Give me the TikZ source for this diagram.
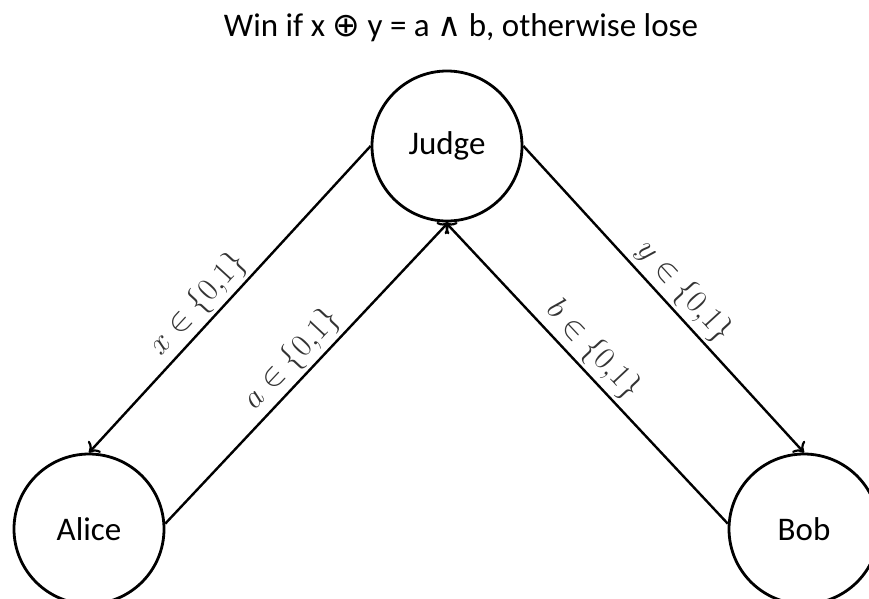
\RequirePackage{fix-cm}
\documentclass[tikz,border=0pt]{standalone}
\usepackage{fontspec}
\setmainfont{Carlito}
\newfontfamily\symfont{DejaVu Sans}
\usetikzlibrary{arrows.meta}
\tikzset{
  player/.style={circle, draw, line width=2.8pt, minimum size=150pt, inner sep=0pt, font=\fontsize{33}{38}\selectfont},
  msg/.style={line width=2.4pt, -{To[length=9pt,width=17pt,line width=2.2pt]}},
  lbl/.style={sloped, above, inner sep=3pt, font=\fontsize{32}{38}\selectfont, text=black!80}
}
\begin{document}
\begin{tikzpicture}[x=1pt,y=-1pt]
  \useasboundingbox (0,0) rectangle (869,598);
  \node[font=\fontsize{33}{38}\selectfont] (title) at (461,28) {Win if x {\symfont ⊕} y = a {\symfont ∧} b, otherwise lose};
  \node[player] (judge) at (447,146) {Judge};
  \node[player] (alice) at (89,529) {Alice};
  \node[player] (bob) at (804,529) {Bob};
  \draw[msg] (judge.180) -- node[lbl, pos=0.56] {$x\in\{0{,}1\}$} (alice.90);
  \draw[msg] (alice.4) -- node[lbl] {$a\in\{0{,}1\}$} (judge.271);
  \draw[msg] (judge.0) -- node[lbl, pos=0.52] {$y\in\{0{,}1\}$} (bob.90);
  \draw[msg] (bob.176) -- node[lbl, pos=0.53] {$b\in\{0{,}1\}$} (judge.269);
\end{tikzpicture}
\end{document}
